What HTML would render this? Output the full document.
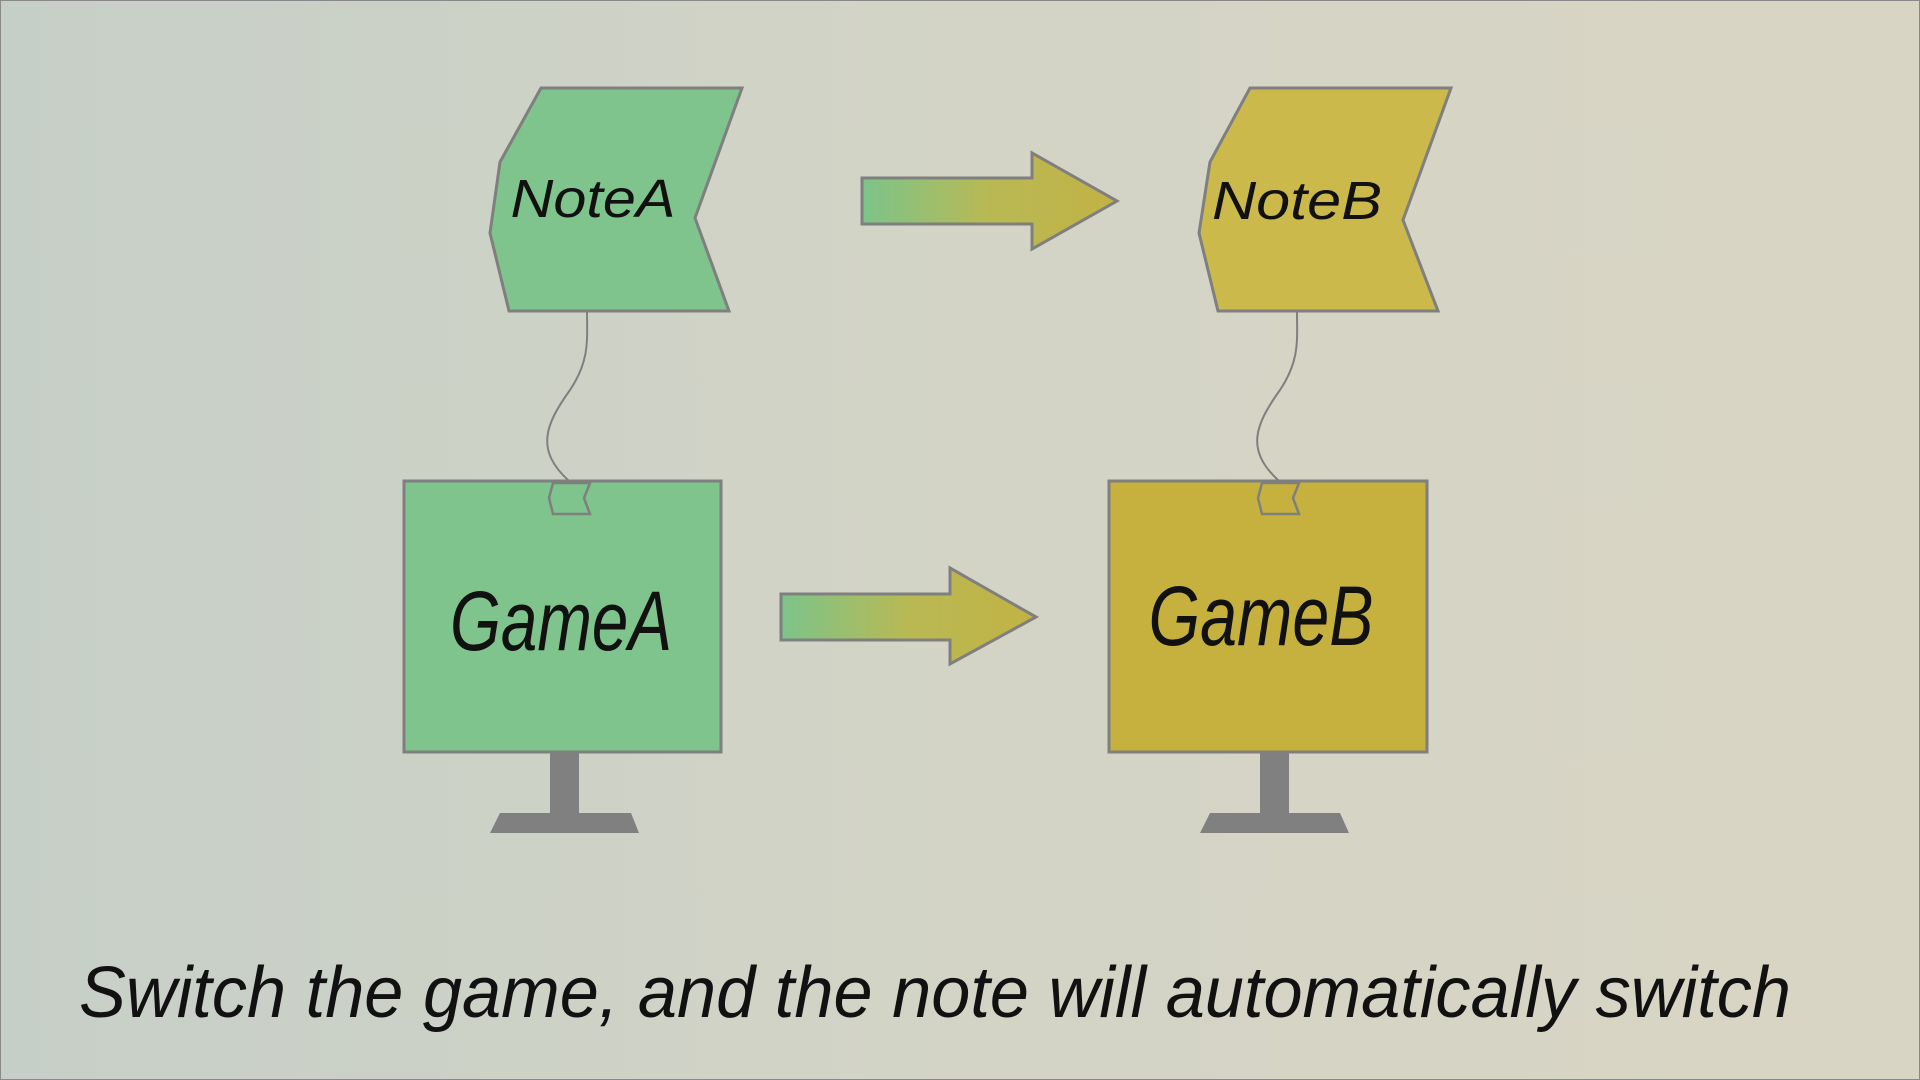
<!DOCTYPE html>
<html><head><meta charset="utf-8"><style>
html,body{margin:0;padding:0;width:1920px;height:1080px;overflow:hidden}
</style></head><body>
<svg width="1920" height="1080" viewBox="0 0 1920 1080" xmlns="http://www.w3.org/2000/svg">
<defs>
<linearGradient id="bg" x1="0" y1="0" x2="1" y2="0"><stop offset="0" stop-color="#c6cfc7"/><stop offset="0.5" stop-color="#d3d4c6"/><stop offset="1" stop-color="#d9d5c4"/></linearGradient>
<linearGradient id="ar" x1="0" y1="0" x2="1" y2="0"><stop offset="0" stop-color="#7cc48a"/><stop offset="0.5" stop-color="#b9b954"/><stop offset="1" stop-color="#c2b244"/></linearGradient>
</defs>
<rect x="0.5" y="0.5" width="1919" height="1079" fill="url(#bg)" stroke="#888" stroke-width="1"/>
<g stroke="#7f7f7f" stroke-width="3" stroke-linejoin="miter">
<polygon points="541,88 742,88 695,218 729,311 509,311 490,233 500,162" fill="#7ec48c"/>
<polygon points="1250,88 1451,88 1403,220 1438,311 1218,311 1199,233 1210,162" fill="#ccb94b"/>
<rect x="404" y="481" width="317" height="271" fill="#7ec48c"/>
<rect x="1109" y="481" width="318" height="271" fill="#c6b13f"/>
<polygon points="862,178 1032,178 1032,153 1117,201 1032,249 1032,224 862,224" fill="url(#ar)"/>
<polygon points="781,594 950,594 950,568 1036,617 950,664 950,640 781,640" fill="url(#ar)"/>
</g>
<g fill="none" stroke="#7f7f7f" stroke-width="2">
<path d="M587,311 C587,340 590,360 570,390 C545,425 535,450 569,481"/>
<path d="M1297,311 C1297,340 1300,360 1280,390 C1255,425 1245,450 1279,481"/>
</g>
<g stroke="#7f7f7f" stroke-width="2.5">
<path d="M553,483 L590,483 L584,498 L590,514 L553,514 L549,498 Z" fill="#7ec48c"/>
<path d="M1262,483 L1299,483 L1293,498 L1299,514 L1262,514 L1258,498 Z" fill="#c6b13f"/>
</g>
<g fill="#808080">
<rect x="550" y="752" width="29" height="61"/>
<polygon points="500,813 631,813 639,833 490,833"/>
<rect x="1260" y="752" width="29" height="61"/>
<polygon points="1210,813 1340,813 1349,833 1200,833"/>
</g>
<g font-family="Liberation Sans, sans-serif" fill="#111" text-anchor="middle" font-style="italic">
<text x="593" y="217" font-size="54" textLength="165" lengthAdjust="spacingAndGlyphs">NoteA</text>
<text x="1297" y="219" font-size="54" textLength="170" lengthAdjust="spacingAndGlyphs">NoteB</text>
<text x="561" y="650" font-size="84" textLength="222" lengthAdjust="spacingAndGlyphs">GameA</text>
<text x="1261" y="645" font-size="84" textLength="225" lengthAdjust="spacingAndGlyphs">GameB</text>
<text x="935" y="1017" font-size="72" textLength="1712" lengthAdjust="spacingAndGlyphs">Switch the game, and the note will automatically switch</text>
</g>
</svg>
</body></html>
